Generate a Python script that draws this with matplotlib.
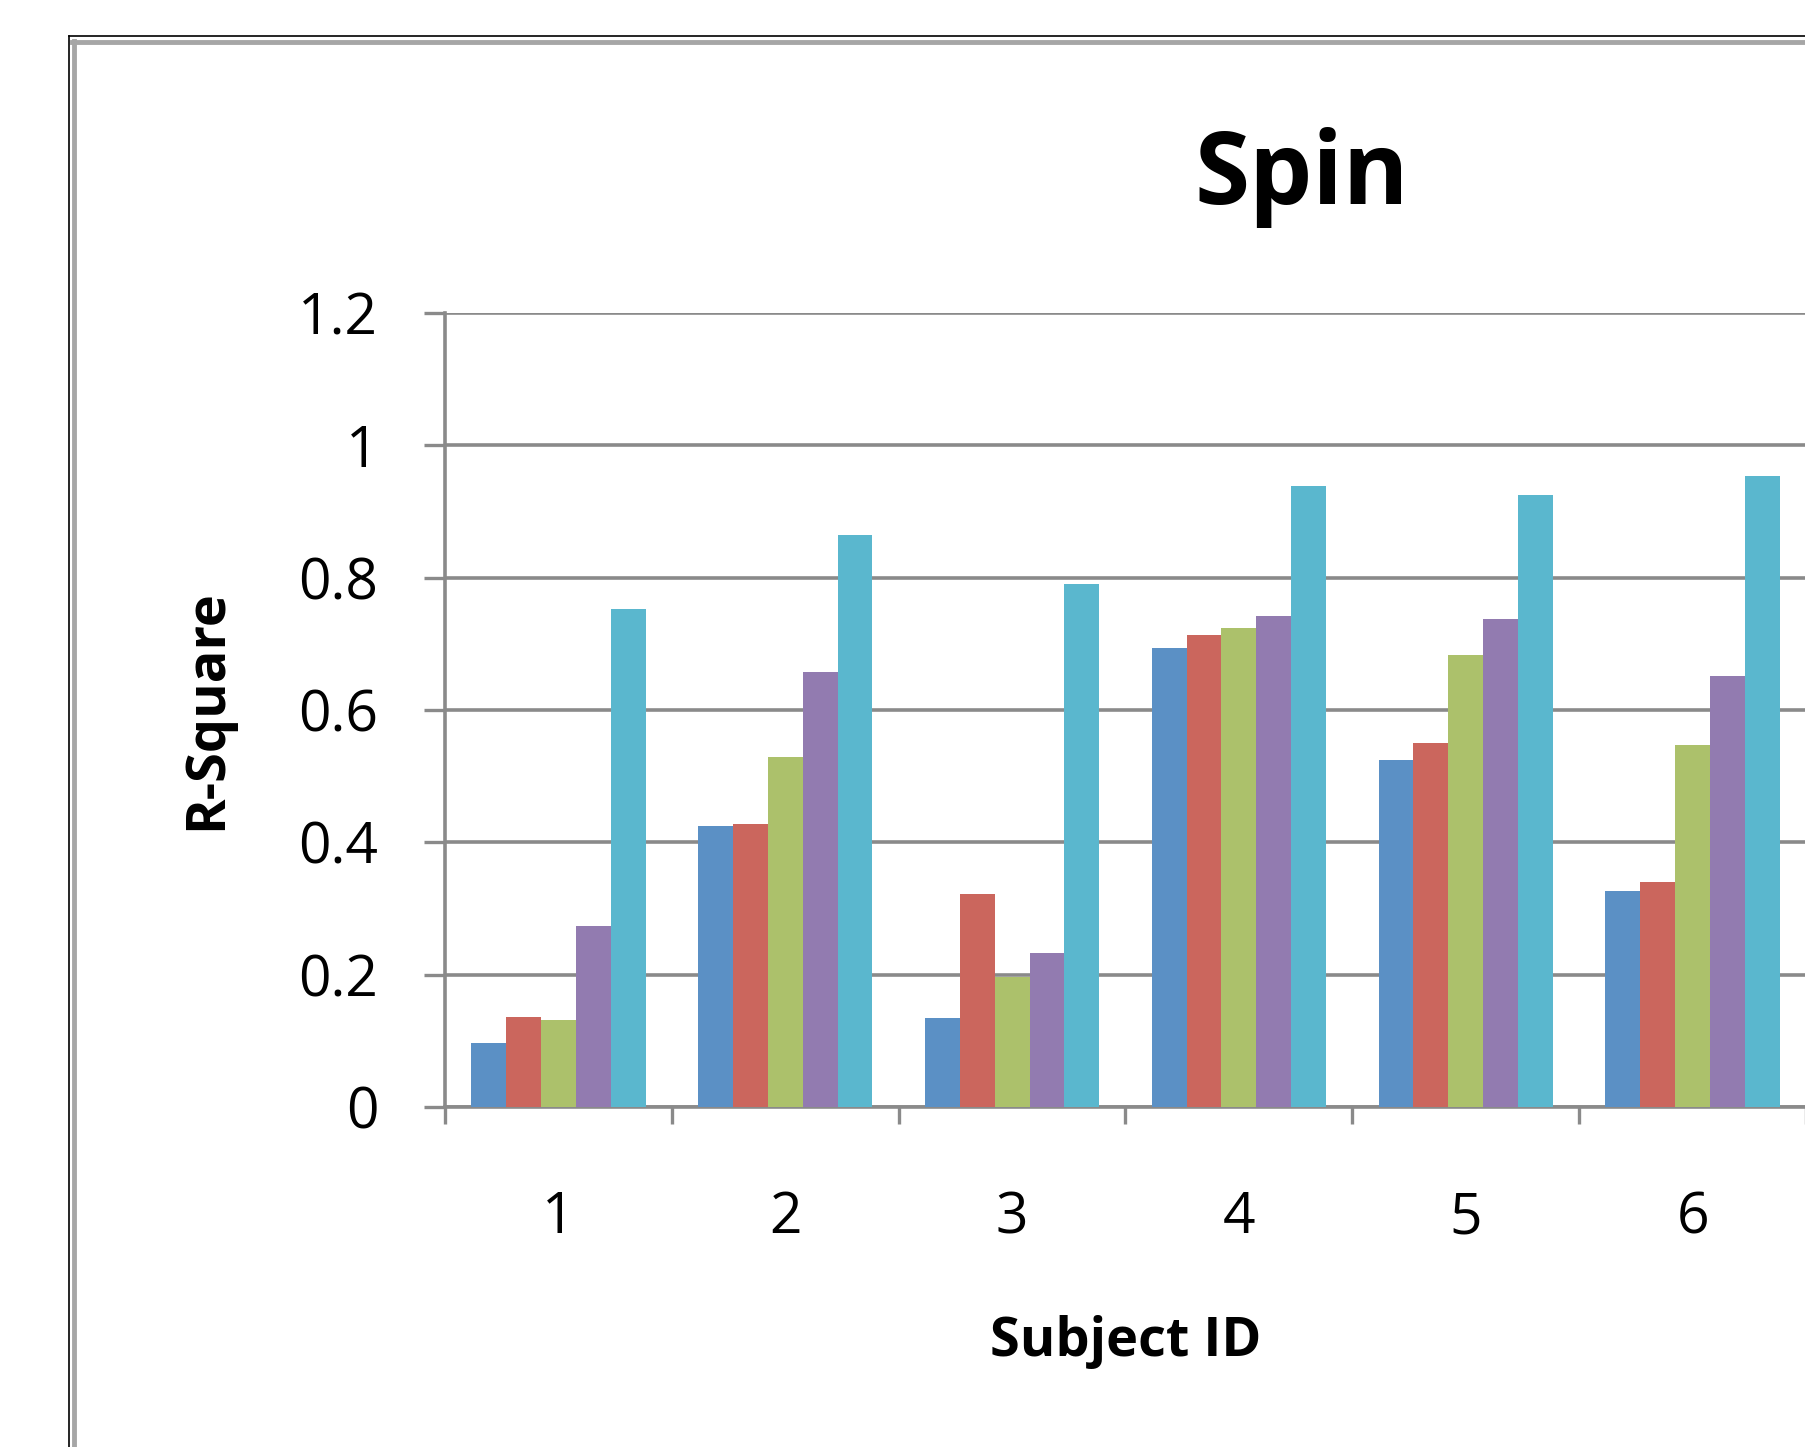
import numpy as np
import matplotlib.pyplot as plt
from matplotlib.lines import Line2D

# ------------------------------
# Data
# ------------------------------
subjects = ["1", "2", "3", "4", "5", "6"]
series_a = [0.096, 0.425, 0.134, 0.693, 0.524, 0.326]
series_b = [0.136, 0.427, 0.322, 0.714, 0.550, 0.340]
series_c = [0.132, 0.529, 0.197, 0.724, 0.683, 0.547]
series_d = [0.273, 0.658, 0.232, 0.742, 0.737, 0.652]
series_e = [0.752, 0.864, 0.791, 0.939, 0.925, 0.953]
y_ticks = [0, 0.2, 0.4, 0.6, 0.8, 1.0, 1.2]
y_tick_labels = ["0", "0.2", "0.4", "0.6", "0.8", "1", "1.2"]

colors = ["#5b90c5", "#cb665d", "#acc16b", "#927bb0", "#5ab7ce"]
all_series = [series_a, series_b, series_c, series_d, series_e]

plt.rcParams["font.family"] = ["Open Sans", "DejaVu Sans"]

W, H = 1806, 1447
fig = plt.figure(figsize=(W / 100, H / 100), dpi=100)
fig.patch.set_facecolor("white")

# pixel -> figure fraction helpers
def fx(px):
    return px / W

def fy(py):
    return 1 - py / H

# outer chart frame (double line, cropped at right/bottom)
fig.add_artist(Line2D([fx(69), fx(69)], [fy(36), fy(H + 20)], color="black", lw=1.2, transform=fig.transFigure))
fig.add_artist(Line2D([fx(69), fx(W + 20)], [fy(36), fy(36)], color="black", lw=1.2, transform=fig.transFigure))
fig.add_artist(Line2D([fx(73.5), fx(73.5)], [fy(41), fy(H + 20)], color="#a6a6a6", lw=3.5, transform=fig.transFigure))
fig.add_artist(Line2D([fx(72), fx(W + 20)], [fy(42), fy(42)], color="#a6a6a6", lw=3.5, transform=fig.transFigure))

ax = fig.add_axes([fx(445), fy(1107), 1 - fx(445), fy(313) - fy(1107)])

n = len(subjects)
x = np.arange(1, n + 1)
n_series = len(all_series)
bar_w = 1 / (n_series + 1.5)
for i, (vals, c) in enumerate(zip(all_series, colors)):
    offs = (i - (n_series - 1) / 2) * bar_w
    ax.bar(x + offs, vals, width=bar_w, color=c, edgecolor="none", zorder=3)

ax.set_xlim(0.5, n + 0.5)
ax.set_ylim(0, 1.2)

grid_c = "#8a8a8a"
ax.set_yticks(y_ticks)
ax.set_yticklabels(y_tick_labels)
ax.yaxis.grid(True, color=grid_c, lw=2.6, zorder=0)
ax.set_axisbelow(True)

ax.set_xticks(x)
ax.set_xticklabels(subjects)
ax.set_xticks(np.arange(0.5, n + 1.0, 1.0), minor=True)

ax.tick_params(axis="y", length=15, width=2.4, color=grid_c, pad=33,
               labelsize=41, labelcolor="black", direction="out")
ax.tick_params(axis="x", which="major", length=0, pad=60, labelsize=41, labelcolor="black")
ax.tick_params(axis="x", which="minor", length=12, width=2.4, color=grid_c, direction="out")

for s in ["top", "right"]:
    ax.spines[s].set_visible(False)
for s in ["left", "bottom"]:
    ax.spines[s].set_color(grid_c)
    ax.spines[s].set_linewidth(2.6)

fig.text(fx(1302), fy(178), "Spin", fontsize=72, fontweight="bold", ha="center", va="center")
fig.text(fx(207), fy(710), "R-Square", fontsize=39, fontweight="bold", rotation=90,
         ha="center", va="center")
fig.text(fx(1126), fy(1342), "Subject ID", fontsize=39, fontweight="bold", ha="center", va="center")

plt.savefig("out.png", dpi=100)
